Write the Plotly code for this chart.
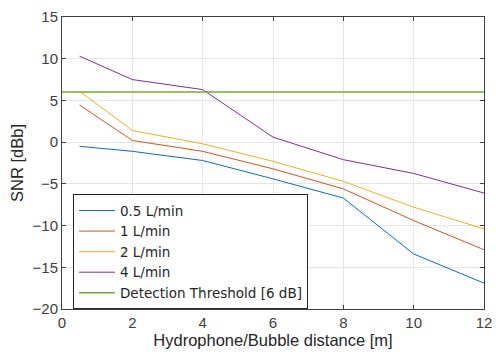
import plotly.graph_objects as go

distance = [0.5, 2, 4, 6, 8, 10, 12]
snr_05 = [-0.5, -1.1, -2.2, -4.4, -6.7, -13.4, -16.9]
snr_1 = [4.45, 0.2, -1.1, -3.2, -5.6, -9.4, -12.9]
snr_2 = [6.1, 1.4, -0.2, -2.3, -4.7, -7.8, -10.4]
snr_4 = [10.3, 7.5, 6.3, 0.6, -2.1, -3.75, -6.1]
threshold_x = [0, 12]
threshold_y = [6, 6]

names = ["0.5 L/min", "1 L/min", "2 L/min", "4 L/min"]
colors = ["#0072BD", "#D95319", "#EDB120", "#7E2F8E"]
series = [snr_05, snr_1, snr_2, snr_4]

FONT = "Liberation Sans, Arial"

fig = go.Figure()
for n, c, s in zip(names, colors, series):
    fig.add_trace(go.Scatter(x=distance, y=s, mode="lines", name=n,
                             line=dict(color=c, width=1)))
fig.add_trace(go.Scatter(x=threshold_x, y=threshold_y, mode="lines",
                         name="Detection Threshold [6 dB]",
                         line=dict(color="#77AC30", width=1.5)))

axis_common = dict(showline=True, linecolor="#404040", linewidth=1, mirror="ticks",
                   ticks="inside", ticklen=4, tickcolor="#404040",
                   showgrid=True, gridcolor="#E6E6E6", gridwidth=1, zeroline=False,
                   tickfont=dict(family=FONT, size=15, color="#404040"))

fig.update_layout(
    width=500, height=357,
    margin=dict(l=62, r=8, t=10, b=48),
    plot_bgcolor="white", paper_bgcolor="white",
    xaxis=dict(range=[0, 12], dtick=2,
               title=dict(text="Hydrophone/Bubble distance [m]", standoff=4,
                          font=dict(family=FONT, size=16.5, color="#262626")),
               **axis_common),
    yaxis=dict(range=[-20, 15], dtick=5,
               title=dict(text="SNR [dBb]", standoff=4,
                          font=dict(family=FONT, size=16.5, color="#262626")),
               **axis_common),
    legend=dict(x=0.026, y=0.196, xanchor="left", yanchor="middle",
                bgcolor="white", bordercolor="#262626", borderwidth=1,
                font=dict(family="DejaVu Sans", size=13.5, color="#262626"),
                tracegroupgap=0, itemwidth=36),
    showlegend=True,
)

fig.write_html("out.html")
